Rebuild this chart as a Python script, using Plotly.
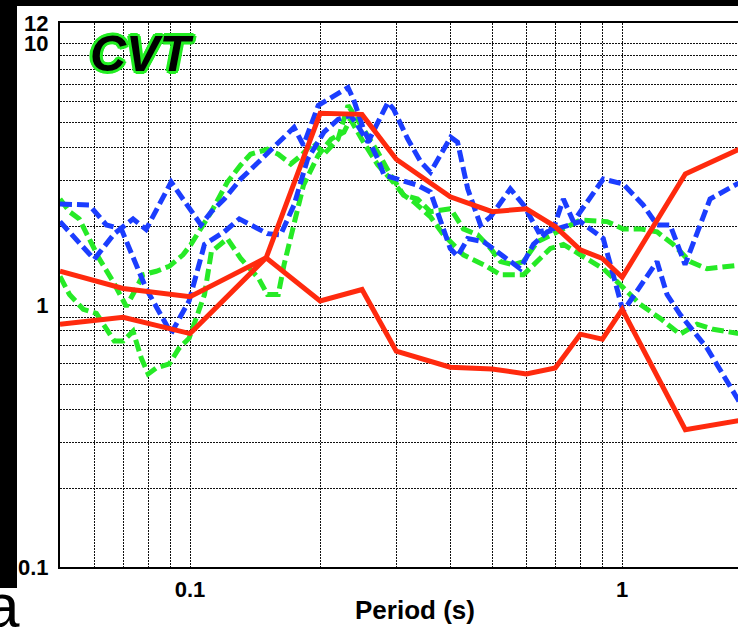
import plotly.graph_objects as go

# ---------------- data ----------------
red_period = [0.05, 0.07, 0.1, 0.15, 0.2, 0.25, 0.3, 0.4, 0.5, 0.6, 0.7, 0.8, 0.9, 1.0, 1.4, 2.0]
red_upper = [1.35, 1.16, 1.08, 1.52, 5.42, 5.37, 3.62, 2.60, 2.28, 2.34, 2.00, 1.63, 1.51, 1.28, 3.18, 4.17]
red_lower = [0.847, 0.90, 0.78, 1.52, 1.04, 1.15, 0.668, 0.58, 0.571, 0.547, 0.576, 0.776, 0.743, 0.966, 0.335, 0.37]

blue1_period = [0.05, 0.060, 0.0668, 0.0738, 0.0791, 0.0904, 0.106, 0.112, 0.120, 0.131, 0.144, 0.160,
                0.174, 0.183, 0.198, 0.232, 0.239, 0.252, 0.272, 0.281, 0.302, 0.336, 0.360, 0.374,
                0.400, 0.416, 0.439, 0.478, 0.523, 0.581, 0.623, 0.671, 0.800, 0.857, 0.904, 0.953,
                1.005, 1.204, 1.270, 1.361, 1.572, 1.844, 1.9]
blue1_value = [2.09, 1.50, 1.88, 2.14, 1.95, 2.96, 2.03, 2.28, 2.55, 3.04, 3.53, 4.20,
               4.79, 4.09, 5.81, 6.80, 6.12, 4.71, 3.62, 3.15, 3.04, 2.88, 2.71, 2.28,
               1.65, 1.54, 1.80, 1.75, 1.56, 1.38, 1.71, 1.91, 2.09, 1.91, 1.80, 1.31,
               0.949, 1.47, 1.10, 0.924, 0.686, 0.443, 0.406]

blue2_period = [0.05, 0.0584, 0.064, 0.0693, 0.0791, 0.0904, 0.0995, 0.108, 0.120, 0.130, 0.151, 0.162,
                0.174, 0.187, 0.204, 0.220, 0.235, 0.244, 0.258, 0.287, 0.296, 0.319, 0.342, 0.360,
                0.401, 0.416, 0.439, 0.470, 0.496, 0.551, 0.591, 0.640, 0.693, 0.731, 0.771, 0.904,
                1.005, 1.118, 1.204, 1.291, 1.398, 1.597, 1.844, 1.9]
blue2_value = [2.44, 2.42, 2.03, 1.96, 1.16, 0.782, 1.04, 1.71, 1.91, 2.14, 1.88, 1.86,
               2.42, 3.62, 4.59, 5.14, 5.32, 4.88, 4.20, 5.97, 5.61, 4.32, 3.53, 3.23,
               4.39, 4.20, 2.79, 2.03, 2.18, 2.79, 2.42, 1.91, 1.96, 2.55, 2.09, 3.04,
               2.91, 2.42, 2.03, 2.03, 1.43, 2.55, 2.91, 2.96]

green1_period = [0.05, 0.0526, 0.0554, 0.0584, 0.0616, 0.0664, 0.0712, 0.075, 0.0779, 0.0835, 0.0895, 0.0963,
                 0.1005, 0.112, 0.122, 0.131, 0.138, 0.151, 0.160, 0.171, 0.181, 0.193, 0.204, 0.220,
                 0.232, 0.252, 0.272, 0.291, 0.312, 0.329, 0.360, 0.386, 0.429, 0.478, 0.523, 0.591,
                 0.682, 0.731, 0.800, 0.904, 0.989, 1.100, 1.224, 1.361, 1.490, 1.623, 1.844, 1.9]
green1_value = [2.55, 2.28, 2.14, 1.80, 1.51, 1.23, 0.99, 1.16, 1.31, 1.35, 1.41, 1.56,
                1.71, 2.28, 2.96, 3.44, 3.78, 3.95, 3.78, 3.47, 3.75, 4.20, 3.78, 4.32,
                5.81, 4.71, 3.85, 3.15, 2.64, 2.49, 2.18, 1.86, 1.56, 1.43, 1.31, 1.31,
                1.65, 1.71, 1.56, 1.38, 1.20, 1.01, 0.892, 0.776, 0.847, 0.810, 0.782, 0.78]

green2_period = [0.05, 0.0526, 0.0566, 0.0607, 0.0668, 0.070, 0.0738, 0.0771, 0.080, 0.0835, 0.0895, 0.0943,
                 0.0995, 0.108, 0.112, 0.122, 0.131, 0.144, 0.151, 0.160, 0.165, 0.174, 0.183, 0.198,
                 0.212, 0.227, 0.235, 0.252, 0.272, 0.291, 0.312, 0.336, 0.360, 0.401, 0.429, 0.463,
                 0.496, 0.523, 0.560, 0.591, 0.636, 0.708, 0.800, 0.923, 1.005, 1.100, 1.204, 1.312,
                 1.436, 1.572, 1.844, 1.9]
green2_value = [1.29, 1.10, 0.966, 0.932, 0.730, 0.730, 0.796, 0.629, 0.547, 0.576, 0.597, 0.686,
                0.749, 1.10, 1.60, 1.80, 1.51, 1.27, 1.10, 1.10, 1.43, 2.03, 2.88, 3.75,
                4.32, 4.59, 5.14, 4.20, 3.44, 3.04, 2.64, 2.55, 2.28, 2.34, 1.96, 1.86,
                1.65, 1.47, 1.43, 1.47, 1.75, 1.91, 2.12, 2.09, 1.96, 1.96, 1.91, 1.71,
                1.47, 1.38, 1.43, 1.43]

x_grid = [0.06, 0.07, 0.08, 0.09, 0.1, 0.2, 0.3, 0.4, 0.5, 0.6, 0.7, 0.8, 0.9, 1, 2]
x_labels = {0.1: "0.1", 1: "1"}
y_grid = [0.1, 0.2, 0.3, 0.4, 0.5, 0.6, 0.7, 0.8, 0.9, 1, 2, 3, 4, 5, 6, 7, 8, 9, 10, 12]
y_labels = {0.1: "0.1", 1: "1", 10: "10", 12: "12"}

RED = "#ff2a0e"
BLUE = "#1b3dff"
GREEN = "#26ea26"
FONT = "Liberation Sans, Arial, sans-serif"

fig = go.Figure()
dash = "12px,5px"
for px, py in [(green1_period, green1_value), (green2_period, green2_value)]:
    fig.add_trace(go.Scatter(x=px, y=py, mode="lines",
                             line=dict(color=GREEN, width=5, dash=dash)))
for px, py in [(blue1_period, blue1_value), (blue2_period, blue2_value)]:
    fig.add_trace(go.Scatter(x=px, y=py, mode="lines",
                             line=dict(color=BLUE, width=5, dash=dash)))
for py in [red_upper, red_lower]:
    fig.add_trace(go.Scatter(x=red_period, y=py, mode="lines",
                             line=dict(color=RED, width=5)))

W, H = 738, 627
ml, mr, mt, mb = 60, 0, 23, 60
pw, ph = W - ml - mr, H - mt - mb


def px2paper_x(p):
    return (p - ml) / pw


def px2paper_y(p):
    return (H - mb - p) / ph


grid_kw = dict(showgrid=True, gridcolor="#111111", gridwidth=1.3, griddash="2px,1px")

fig.update_layout(
    width=W, height=H,
    margin=dict(l=ml, r=mr, t=mt, b=mb, autoexpand=False),
    paper_bgcolor="white", plot_bgcolor="white",
    showlegend=False,
    font=dict(family=FONT, color="black"),
    xaxis=dict(type="log", range=[-1.301, 0.268], automargin=False,
               tickvals=x_grid, ticktext=[x_labels.get(v, "") for v in x_grid],
               tickfont=dict(size=22, weight="bold", family=FONT),
               ticks="", ticklabelstandoff=2,
               showline=True, linecolor="black", linewidth=2, mirror=True,
               zeroline=False, **grid_kw),
    yaxis=dict(type="log", range=[-1, 1.0792], automargin=False,
               tickvals=y_grid, ticktext=[y_labels.get(v, "") for v in y_grid],
               tickfont=dict(size=22, weight="bold", family=FONT),
               ticks="", ticklabelstandoff=5,
               showline=True, linecolor="black", linewidth=2, mirror=False,
               zeroline=False, **grid_kw),
)

# black frame strips of the original figure crop
fig.add_shape(type="rect", xref="paper", yref="paper",
              x0=px2paper_x(0), x1=px2paper_x(17), y0=px2paper_y(588), y1=px2paper_y(0),
              fillcolor="black", line=dict(width=0), layer="above")
fig.add_shape(type="rect", xref="paper", yref="paper",
              x0=px2paper_x(0), x1=px2paper_x(W), y0=px2paper_y(6), y1=px2paper_y(0),
              fillcolor="black", line=dict(width=0), layer="above")

g = "#22ee22"
shadow = ", ".join(f"{dx}px {dy}px 0 {g}" for dx, dy in
                   [(-2, -2), (2, -2), (-2, 2), (2, 2), (0, 3), (0, -3), (3, 0), (-3, 0)])
fig.add_annotation(text="CVT", xref="paper", yref="paper",
                   x=px2paper_x(142), y=px2paper_y(54), xanchor="center", yanchor="middle",
                   showarrow=False,
                   font=dict(family=FONT, size=50, color="black", weight="bold",
                             style="italic", shadow=shadow))

fig.add_annotation(text="Period (s)", xref="paper", yref="paper",
                   x=px2paper_x(415), y=px2paper_y(610), xanchor="center", yanchor="middle",
                   showarrow=False, font=dict(family=FONT, size=26, color="black", weight="bold"))

fig.add_annotation(text="a", xref="paper", yref="paper",
                   x=px2paper_x(-17), y=px2paper_y(642), xanchor="left", yanchor="bottom",
                   showarrow=False, font=dict(family=FONT, size=62, color="black"))

fig.write_html("out.html", config={"displayModeBar": False},
               post_script="document.body.style.margin='0';document.body.style.overflow='hidden';")
